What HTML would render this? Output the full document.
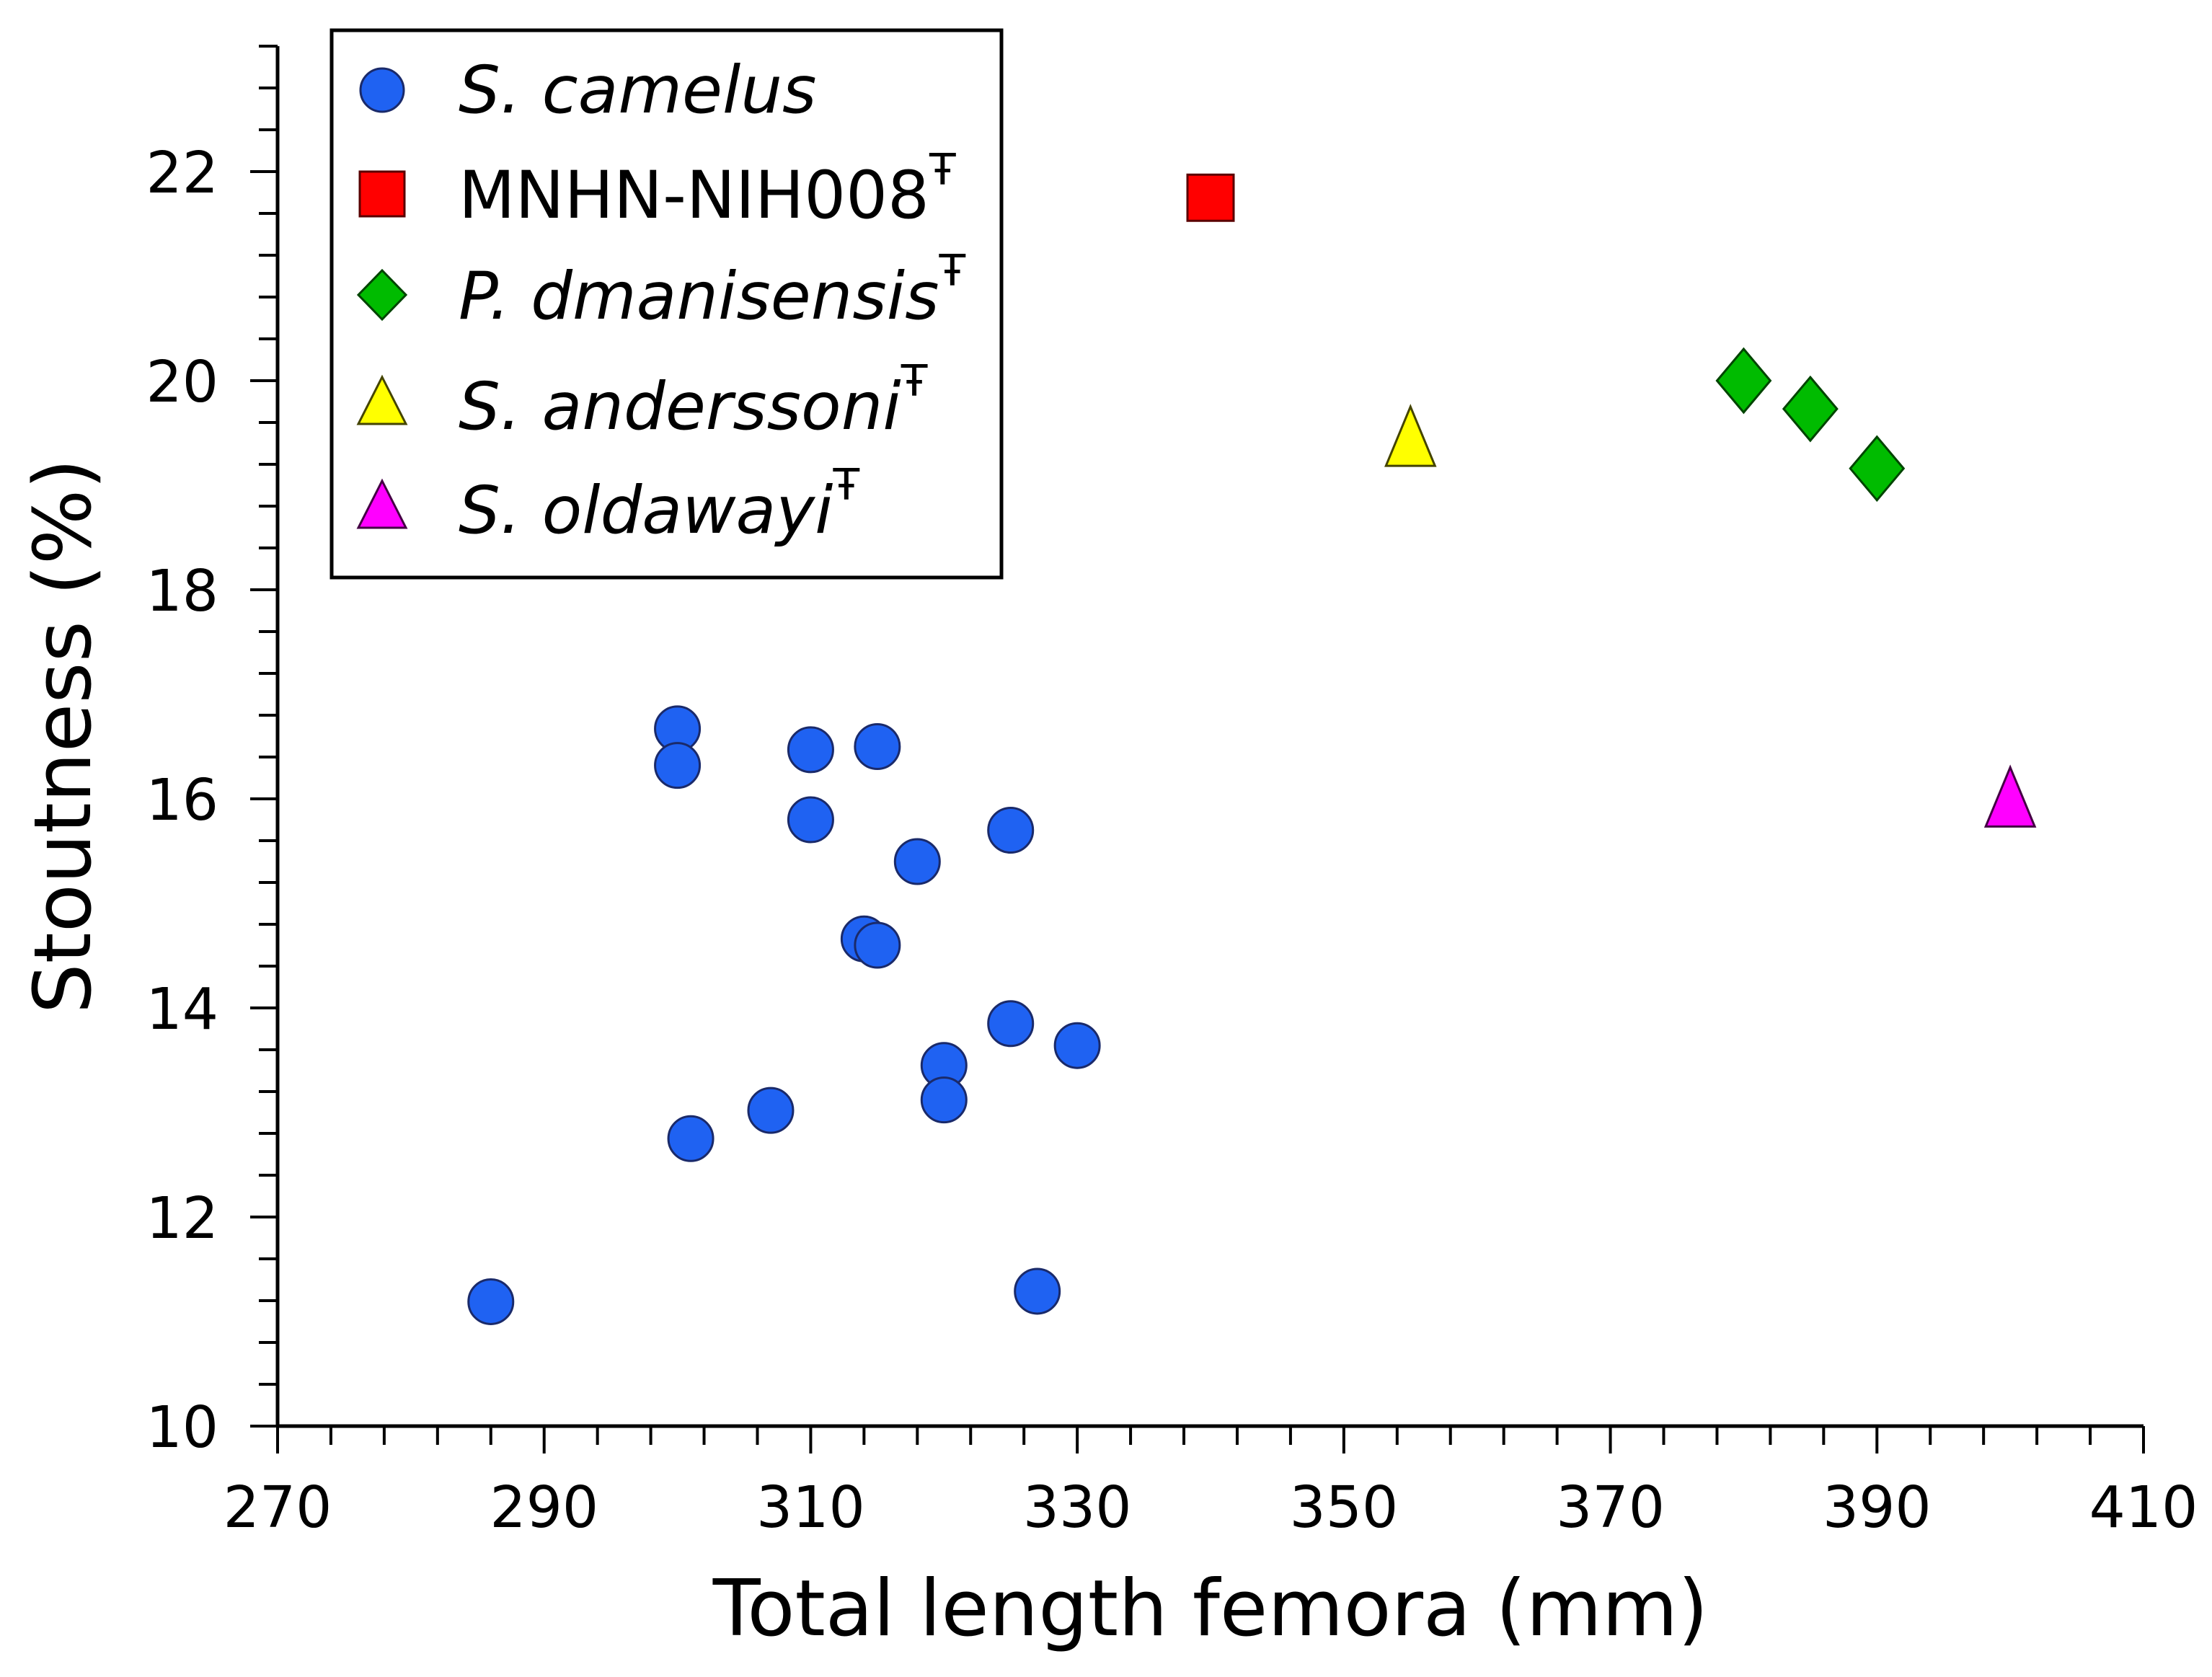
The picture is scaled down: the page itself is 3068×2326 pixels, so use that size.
<!DOCTYPE html>
<html><head><meta charset="utf-8"><style>
html,body{margin:0;padding:0;background:#fff;}
svg{display:block;font-family:"DejaVu Sans","Liberation Sans",sans-serif;}
</style></head><body>
<svg id="chart" width="3068" height="2326" viewBox="0 0 3068 2326" xmlns="http://www.w3.org/2000/svg">
<g id="axes"></g>
<g id="marks"></g>
<text x="1679" y="2268" font-size="108" text-anchor="middle">Total length femora (mm)</text>
<text x="0" y="0" font-size="110" text-anchor="middle" transform="translate(125,1021) rotate(-90)">Stoutness (%)</text>
<g>
<rect x="460" y="42" width="929" height="759" fill="#fff" stroke="#000" stroke-width="5"/>
<circle cx="530" cy="125" r="30" fill="#1f62f2" stroke="#1a2a6a" stroke-width="3"/>
<text x="636" y="156" font-size="91" font-style="italic">S. camelus</text>
<rect x="499" y="238" width="62" height="62" fill="#ff0000" stroke="#5a0000" stroke-width="3"/>
<text x="636" y="302" font-size="91">MNHN-NIH008<tspan font-size="60" dy="-46">Ŧ</tspan></text>
<polygon points="530,375 563,409 530,443 497,409" fill="#00bb00" stroke="#004400" stroke-width="3"/>
<text x="636" y="442" font-size="91" font-style="italic">P. dmanisensis<tspan font-size="60" dy="-46" font-style="normal">Ŧ</tspan></text>
<polygon points="530,523 563,588 497,588" fill="#ffff00" stroke="#444400" stroke-width="3"/>
<text x="636" y="595" font-size="91" font-style="italic">S. anderssoni<tspan font-size="60" dy="-46" font-style="normal">Ŧ</tspan></text>
<polygon points="530,667 563,732 497,732" fill="#ff00ff" stroke="#440044" stroke-width="3"/>
<text x="636" y="739" font-size="91" font-style="italic">S. oldawayi<tspan font-size="60" dy="-46" font-style="normal">Ŧ</tspan></text>
</g>
</svg>
<script>
const xTicks = [270, 290, 310, 330, 350, 370, 390, 410];
const yTicks = [10, 12, 14, 16, 18, 20, 22];
const camelusX = [286, 300, 300, 301, 307, 310, 310, 314, 315, 315, 318, 320, 320, 325, 325, 327, 330];
const camelusY = [11.19, 16.67, 16.32, 12.75, 13.02, 16.47, 15.80, 14.66, 14.60, 16.50, 15.40, 13.45, 13.12, 15.70, 13.85, 11.29, 13.64];
const mnhnX = [340];
const mnhnY = [21.75];
const dmanX = [380, 385, 390];
const dmanY = [20.0, 19.73, 19.16];
const anderX = [355];
const anderY = [19.42];
const oldX = [400];
const oldY = [15.97];

const NS = "http://www.w3.org/2000/svg";
const X0 = 385, X1 = 2973, XMIN = 270, XMAX = 410;
const Y0 = 1978, YMIN = 10, YPX = 145.0;
function sx(v){ return X0 + (v - XMIN) * (X1 - X0) / (XMAX - XMIN); }
function sy(v){ return Y0 - (v - YMIN) * YPX; }
function mk(tag, attrs, parent){ const e = document.createElementNS(NS, tag); for (const k in attrs) e.setAttribute(k, attrs[k]); parent.appendChild(e); return e; }

const axes = document.getElementById('axes');
const yTop = sy(23.2);
let l = mk('line', {x1: X0, y1: Y0, x2: X1, y2: Y0, stroke: '#000', 'stroke-width': 5}, axes);


l = mk('line', {x1: X0, y1: Y0 + 2, x2: X0, y2: yTop, stroke: '#000', 'stroke-width': 5}, axes);


for (let v = XMIN; v <= XMAX + 0.01; v += 4) {
  const major = Math.abs((v - 270) % 20) < 0.01;
  const t = mk('line', {x1: sx(v), y1: Y0, x2: sx(v), y2: Y0 + (major ? 38 : 26), stroke: '#000', 'stroke-width': 4}, axes);
  
  
}
for (let i = 0; i <= 33; i++) {
  const v = 10 + i * 0.4;
  if (v > 23.21) break;
  const major = i % 5 === 0;
  const t = mk('line', {x1: X0 - (major ? 38 : 26), y1: sy(v), x2: X0, y2: sy(v), stroke: '#000', 'stroke-width': 4}, axes);
  
  
}
xTicks.forEach(v => {
  const t = mk('text', {x: sx(v), y: 2118, 'font-size': 79, 'text-anchor': 'middle'}, axes);
  t.textContent = v;
  
  
});
yTicks.forEach(v => {
  const t = mk('text', {x: 303, y: sy(v) + 29, 'font-size': 79, 'text-anchor': 'end'}, axes);
  t.textContent = v;
  
  
});

const marks = document.getElementById('marks');
camelusX.forEach((x, i) => {
  const c = mk('circle', {cx: sx(x), cy: sy(camelusY[i]), r: 31, fill: '#1f62f2', stroke: '#1a2a6a', 'stroke-width': 3}, marks);
  
  
});
mnhnX.forEach((x, i) => {
  const cx = sx(x), cy = sy(mnhnY[i]);
  const r = mk('rect', {x: cx - 32, y: cy - 32, width: 64, height: 64, fill: '#ff0000', stroke: '#5a0000', 'stroke-width': 3}, marks);
  
  
});
dmanX.forEach((x, i) => {
  const cx = sx(x), cy = sy(dmanY[i]);
  const p = mk('polygon', {points: `${cx},${cy-44} ${cx+37},${cy} ${cx},${cy+44} ${cx-37},${cy}`, fill: '#00bb00', stroke: '#004400', 'stroke-width': 3}, marks);
  
  
});
function tri(x, y, fill, stroke, name){
  const cx = sx(x), cy = sy(y);
  const p = mk('polygon', {points: `${cx},${cy-48} ${cx+34},${cy+34} ${cx-34},${cy+34}`, fill: fill, stroke: stroke, 'stroke-width': 3}, marks);
  
  
}
anderX.forEach((x, i) => tri(x, anderY[i], '#ffff00', '#444400', 'point-s-anderssoni'));
oldX.forEach((x, i) => tri(x, oldY[i], '#ff00ff', '#440044', 'point-s-oldawayi'));
</script>
</body></html>
